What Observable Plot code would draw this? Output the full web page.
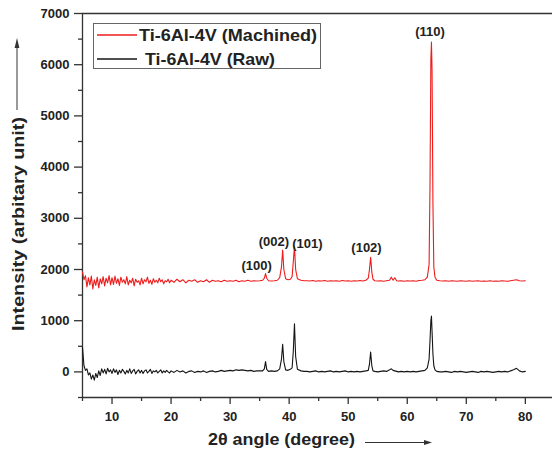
<!DOCTYPE html>
<html><head><meta charset="utf-8">
<script src="https://cdn.jsdelivr.net/npm/d3@7"></script>
<script src="https://cdn.jsdelivr.net/npm/@observablehq/plot@0.6"></script>
<style>body{margin:0;background:#fff} #chart{width:552px;height:453px}</style>
</head><body><div id="chart"></div>
<script>
const seriesNames = ["Ti-6Al-4V (Machined)", "Ti-6Al-4V (Raw)"];
const xTitle = "2θ angle (degree)";
const yTitle = "Intensity (arbitary unit)";
const xMajorTicks = [10, 20, 30, 40, 50, 60, 70, 80];
const xMinorTicks = [5, 15, 25, 35, 45, 55, 65, 75];
const yMajorTicks = [0, 1000, 2000, 3000, 4000, 5000, 6000, 7000];
const yMinorTicks = [-500, 500, 1500, 2500, 3500, 4500, 5500, 6500];

const twoTheta = [
  5, 5.25, 5.5, 5.75, 6, 6.25, 6.5, 6.75, 7, 7.25,
  7.5, 7.75, 8, 8.25, 8.5, 8.75, 9, 9.25, 9.5, 9.75,
  10, 10.25, 10.5, 10.75, 11, 11.25, 11.5, 11.75, 12, 12.25,
  12.5, 12.75, 13, 13.25, 13.5, 13.75, 14, 14.25, 14.5, 14.75,
  15, 15.25, 15.5, 15.75, 16, 16.25, 16.5, 16.75, 17, 17.25,
  17.5, 17.75, 18, 18.25, 18.5, 18.75, 19, 19.25, 19.5, 19.75,
  20, 20.5, 21, 21.5, 22, 22.5, 23, 23.5, 24, 24.5,
  25, 25.5, 26, 26.5, 27, 27.5, 28, 28.5, 29, 29.5,
  30, 30.5, 31, 31.5, 32, 32.5, 33, 33.5, 34, 34.5,
  35, 35.5, 35.8, 36, 36.2, 36.5, 37, 37.5, 38, 38.4,
  38.7, 38.9, 39.1, 39.4, 39.8, 40.2, 40.5, 40.7, 40.9, 41.1,
  41.4, 42, 42.5,
  43, 43.5, 44, 44.5, 45, 45.5, 46, 46.5, 47, 47.5,
  48, 48.5, 49, 49.5, 50, 50.5, 51, 51.5, 52, 52.5,
  53,
  53.4, 53.6, 53.8, 54, 54.2, 54.5, 55, 55.5, 56, 56.5,
  57, 57.3, 57.6, 57.9, 58.2, 58.5, 59, 59.5, 60, 60.5,
  61, 61.5, 62, 62.5, 63, 63.4, 63.7, 63.85, 64, 64.1,
  64.2, 64.35, 64.5, 64.7, 65, 65.5,
  66, 66.5, 67, 67.5, 68, 68.5, 69, 69.5, 70, 70.5,
  71, 71.5, 72, 72.5, 73, 73.5, 74, 74.5, 75, 75.5,
  76, 76.5, 77, 77.5, 78, 78.5, 79, 79.5, 80
];
const machined = [
  1950, 1800, 1880, 1660, 1840, 1700, 1870, 1620, 1800, 1690,
  1850, 1640, 1820, 1720, 1860, 1680, 1830, 1740, 1880, 1700,
  1840, 1710, 1870, 1730, 1820, 1690, 1850, 1750, 1800, 1720,
  1860, 1700, 1790, 1740, 1830, 1680, 1810, 1750, 1780, 1700,
  1830, 1720, 1800, 1760, 1850, 1730, 1790, 1710, 1820, 1750,
  1790, 1740, 1830, 1760, 1800, 1720, 1780, 1760, 1810, 1740,
  1790, 1750, 1810, 1760, 1800, 1740, 1790, 1770, 1800, 1750,
  1780, 1760, 1800, 1750, 1790, 1770, 1780, 1760, 1790, 1770,
  1780, 1770, 1790, 1760, 1780, 1770, 1790, 1770, 1780, 1775,
  1780, 1790, 1830, 1920, 1830, 1780, 1775, 1780, 1790, 1840,
  2050, 2380, 2000, 1820, 1800, 1810, 1860, 2150, 2450, 2000,
  1820, 1790, 1780,
  1780, 1775, 1785, 1770, 1780, 1775, 1785, 1770, 1780, 1775,
  1780, 1770, 1785, 1775, 1780, 1770, 1780, 1775, 1785, 1775,
  1790,
  1830, 2000, 2240, 1950, 1810, 1780, 1775, 1780, 1770, 1780,
  1790, 1850, 1790, 1840, 1780, 1775, 1780, 1770, 1780, 1775,
  1780, 1770, 1785, 1790, 1800, 1850, 2100, 3600, 6100, 6440,
  5900, 3300, 2050, 1850, 1790, 1780,
  1775, 1780, 1770, 1780, 1775, 1770, 1780, 1775, 1770, 1780,
  1770, 1775, 1780, 1770, 1775, 1770, 1780, 1770, 1775, 1770,
  1780, 1775, 1770, 1780, 1790, 1800, 1780, 1775, 1780
];
const raw = [
  480, 120, 30, 60, -60, -20, -140, -60, -160, -30,
  -110, 20, -70, 60, -20, 50, -40, 70, 0, 40,
  -30, 60, -10, 40, -50, 30, -20, 50, 10, -40,
  30, -20, 60, -30, 20, 50, -40, 10, 40, -20,
  30, -30, 20, 40, -20, 10, 50, -30, 20, 0,
  30, -20, 10, 40, -20, 20, -10, 30, 0, -20,
  20, -10, 30, 0, 20, -20, 10, 20, -10, 10,
  0, 20, -10, 10, 20, 0, 10, 30, 10, 20,
  30, 20, 40, 30, 40, 30, 20, 30, 10, 20,
  20, 20, 60, 200, 50, 10, 20, 10, 20, 60,
  250, 540, 200, 40, 30, 50, 80, 400, 940, 300,
  50, 20, 10,
  10, 0, 10, 20, 0, 10, 0, 10, 20, 0,
  10, 0, 10, 20, 0, 10, 0, 10, 0, 10,
  20,
  30, 150, 390, 120, 20, 10, 0, 10, 20, 10,
  40, 60, 30, 20, 10, 0, 10, 0, 10, 0,
  10, 0, 10, 20, 30, 80, 250, 600, 1000, 1090,
  800, 350, 120, 40, 10, 0,
  0, 10, 0, -10, 10, 0, 10, 0, -10, 0,
  10, 0, -10, 10, 0, 10, 0, -10, 0, 10,
  0, 10, 0, 20, 40, 70, 20, 0, 10
];

const peakNames = ["(100)", "(002)", "(101)", "(102)", "(110)"];
const peakLabelTheta = [34.5, 37.4, 43.1, 53.1, 63.85];
const peakLabelIntensity = [2064, 2550, 2508, 2422, 6648];

const data = [];
seriesNames.forEach((name, s) => {
  const vals = s === 0 ? machined : raw;
  twoTheta.forEach((t, i) => data.push({theta: t, intensity: vals[i], series: name}));
});

const colors = ["#ee1c1c", "#151515"];
const axisColor = "#333";

const plot = Plot.plot({
  width: 552, height: 453,
  marginLeft: 82, marginRight: 0, marginTop: 13, marginBottom: 56,
  style: {fontFamily: "'Liberation Sans', Arial, sans-serif", fontSize: "13px", fontWeight: "bold", background: "#fff", color: "#222"},
  x: {domain: [5, 84.6], label: null},
  y: {domain: [-500, 7000], label: null},
  color: {domain: seriesNames, range: colors},
  marks: [
    Plot.axisX({ticks: xMajorTicks, tickSize: 7, tickPadding: 7, tickFormat: d => String(d), stroke: axisColor, strokeWidth: 1.3, fill: "#222", label: null}),
    Plot.axisX({ticks: xMinorTicks, tickSize: 4, tickFormat: () => "", stroke: axisColor, strokeWidth: 1.3, label: null}),
    Plot.axisY({ticks: yMajorTicks, tickSize: 8, tickPadding: 5, tickFormat: d => String(d), stroke: axisColor, strokeWidth: 1.3, fill: "#222", label: null}),
    Plot.axisY({ticks: yMinorTicks, tickSize: 4, tickFormat: () => "", stroke: axisColor, strokeWidth: 1.3, label: null}),
    Plot.ruleX([5], {stroke: axisColor, strokeWidth: 1.3}),
    Plot.ruleY([-500, 7000], {stroke: axisColor, strokeWidth: 1.3}),
    Plot.line(data, {x: "theta", y: "intensity", z: "series", stroke: "series", strokeWidth: 1.1}),
    Plot.text(peakNames, {x: peakLabelTheta, y: peakLabelIntensity, text: d => d, fontSize: 13, fontWeight: "bold", fill: "#222"})
  ]
});

const svg = d3.select(plot);
// y title with arrow
svg.append("text")
  .attr("transform", "translate(23.5,224) rotate(-90)")
  .attr("text-anchor", "middle")
  .attr("font-size", 16).attr("font-weight", "bold").attr("fill", "#222")
  .attr("textLength", 214).attr("lengthAdjust", "spacingAndGlyphs")
  .text(yTitle);
svg.append("line").attr("x1", 17).attr("x2", 17).attr("y1", 110).attr("y2", 46)
  .attr("stroke", "#555").attr("stroke-width", 1.2);
svg.append("path").attr("d", "M17,38 L14.6,48 L19.4,48 Z").attr("fill", "#333");
// x title with arrow
svg.append("text")
  .attr("x", 208).attr("y", 445).attr("text-anchor", "start")
  .attr("font-size", 16).attr("font-weight", "bold").attr("fill", "#222")
  .attr("textLength", 147).attr("lengthAdjust", "spacingAndGlyphs")
  .text(xTitle);
svg.append("line").attr("x1", 365).attr("x2", 425).attr("y1", 442.5).attr("y2", 442.5)
  .attr("stroke", "#333").attr("stroke-width", 1.2);
svg.append("path").attr("d", "M432,442.5 L424,440 L424,445 Z").attr("fill", "#333");
// legend
const lg = svg.append("g");
lg.append("rect").attr("x", 93.5).attr("y", 23.5).attr("width", 227).attr("height", 45)
  .attr("fill", "#fff").attr("stroke", "#666").attr("stroke-width", 1);
const rows = [{y: 35, tx: 139, len: 178, base: 40.5}, {y: 59, tx: 145, len: 130, base: 64.5}];
seriesNames.forEach((name, i) => {
  lg.append("line").attr("x1", 97).attr("x2", 137).attr("y1", rows[i].y).attr("y2", rows[i].y)
    .attr("stroke", colors[i]).attr("stroke-width", 1.3);
  lg.append("text").attr("x", rows[i].tx).attr("y", rows[i].base).attr("text-anchor", "start")
    .attr("font-size", 17).attr("font-weight", "bold").attr("fill", "#222")
    .attr("textLength", rows[i].len).attr("lengthAdjust", "spacingAndGlyphs")
    .text(name);
});

document.getElementById("chart").appendChild(plot);
</script>
</body></html>
